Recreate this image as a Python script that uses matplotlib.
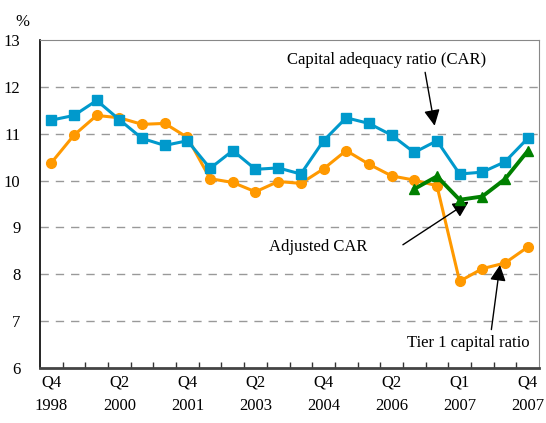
import matplotlib
matplotlib.use("Agg")
import matplotlib.pyplot as plt

tick_labels = ["Q4\n1998", "Q2\n2000", "Q4\n2001", "Q2\n2003", "Q4\n2004", "Q2\n2006", "Q1\n2007", "Q4\n2007"]
tick_idx = [0, 3, 6, 9, 12, 15, 18, 21]

car = [11.29, 11.39, 11.71, 11.30, 10.90, 10.75, 10.85, 10.26, 10.64, 10.24, 10.27,
       10.14, 10.85, 11.34, 11.22, 10.97, 10.60, 10.85, 10.14, 10.18, 10.40, 10.90]
tier1 = [10.38, 10.97, 11.39, 11.34, 11.20, 11.22, 10.92, 10.04, 9.96, 9.76, 9.98,
         9.94, 10.25, 10.64, 10.35, 10.10, 10.01, 9.89, 7.85, 8.12, 8.24, 8.58]
adj_idx = [16, 17, 18, 19, 20, 21]
adj_car = [9.82, 10.09, 9.59, 9.66, 10.03, 10.63]

plt.rcParams['font.family'] = ['Liberation Serif', 'DejaVu Serif']

fig = plt.figure(figsize=(5.46, 4.23), dpi=100)
ax = fig.add_axes([40/546, 1 - 368/423, 499/546, 328/423])

x = list(range(len(car)))
blue = '#0099CC'
orange = '#FF9900'
green = '#008000'

ax.plot(x, tier1, color=orange, lw=2.2, marker='o', ms=7, zorder=3)
ax.plot(x, car, color=blue, lw=2.2, marker='s', ms=7, zorder=4)
ax.plot(adj_idx, adj_car, color=green, lw=2.8, marker='^', ms=7, zorder=5)

ax.set_xlim(-0.5, len(car) - 0.5)
ax.set_ylim(6, 13)
ax.set_yticks(range(6, 14))
ax.set_yticklabels([str(v) for v in range(6, 14)], fontsize=12)
for v in range(7, 13):
    ax.axhline(v, color='#999999', lw=1, ls=(0, (6, 5)), zorder=1)

ax.set_xticks([i + 0.5 for i in range(len(car) - 1)], minor=False)
ax.set_xticklabels([])
ax.tick_params(axis='x', direction='in', length=4, width=1, color='#333333')
ax.tick_params(axis='y', length=0, pad=14)
for i, lab in zip(tick_idx, tick_labels):
    ax.text(i, -0.02, lab, transform=ax.get_xaxis_transform(), ha='center', va='top',
            fontsize=12, linespacing=1.65)

ax.spines['left'].set_color('black')
ax.spines['left'].set_linewidth(1.2)
ax.spines['bottom'].set_color('#444444')
ax.spines['bottom'].set_linewidth(2)
ax.spines['top'].set_color('#888888')
ax.spines['right'].set_color('#888888')

fig.text(22/546, 1 - 22/423, '%', fontsize=12, ha='center', va='center')

ap = dict(arrowstyle='-|>', color='black', lw=1, mutation_scale=24, shrinkA=0, shrinkB=0)
ax.text(14.8, 12.58, 'Capital adequacy ratio (CAR)', fontsize=12, ha='center', va='center')
ax.annotate('', xy=(16.9, 11.17), xytext=(16.48, 12.31), arrowprops=ap)
ax.text(11.76, 8.59, 'Adjusted CAR', fontsize=12, ha='center', va='center')
ax.annotate('', xy=(18.4, 9.55), xytext=(15.5, 8.63), arrowprops=ap)
ax.text(18.4, 6.54, 'Tier 1 capital ratio', fontsize=12, ha='center', va='center')
ax.annotate('', xy=(19.78, 8.2), xytext=(19.4, 6.82), arrowprops=ap)

fig.savefig('out.png', dpi=100)
